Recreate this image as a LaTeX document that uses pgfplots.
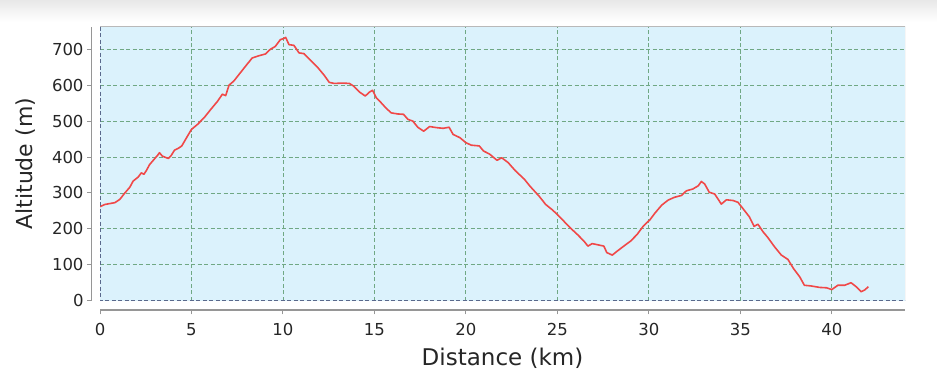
\documentclass[border=0pt]{standalone}
\usepackage{pgfplots}
\pgfplotsset{compat=1.18}
\usepackage{fontspec}
\setmainfont{DejaVu Sans}
\definecolor{bgc}{RGB}{219,242,252}
\definecolor{gridc}{RGB}{112,168,132}
\definecolor{linec}{RGB}{240,72,72}
\definecolor{axc}{RGB}{150,150,150}
\definecolor{borderc}{RGB}{185,185,185}
\definecolor{zeroc}{RGB}{90,105,140}
\pgfplotstableread{
x y
0 262
0.27 268
0.81 273
1.08 282
1.36 300
1.63 316
1.81 333
2.08 344
2.26 356
2.4 352
2.53 362
2.71 379
2.98 395
3.15 405
3.25 412
3.4 403
3.53 400
3.74 396
3.9 405
4.07 419
4.3 425
4.47 431
4.79 459
5.0 477
5.33 491
5.7 510
6.06 533
6.42 555
6.69 575
6.87 571
7.05 600
7.32 612
7.69 636
8.05 659
8.32 676
8.68 682
9.04 687
9.31 700
9.58 708
9.86 727
10.04 730
10.15 733
10.33 713
10.6 711
10.88 690
11.15 688
11.52 669
11.89 650
12.25 628
12.53 608
12.8 605
13.26 606
13.63 605
13.85 598
14.18 581
14.5 570
14.73 581
14.9 586
15.1 565
15.37 551
15.64 536
15.92 523
16.28 520
16.59 519
16.83 505
17.1 500
17.37 483
17.69 472
18.02 485
18.38 482
18.75 480
19.08 483
19.3 463
19.67 454
20.0 440
20.3 433
20.73 431
20.96 417
21.3 408
21.7 391
21.96 398
22.3 385
22.7 362
23.2 338
23.5 319
24.0 291
24.36 268
24.7 254
25.0 240
25.36 221
25.7 203
26.1 184
26.45 166
26.67 152
26.9 159
27.27 155
27.54 152
27.7 134
28.0 127
28.27 138
28.63 152
29.0 166
29.35 184
29.7 208
30.07 226
30.35 245
30.7 266
31.05 280
31.4 288
31.78 293
32.05 306
32.4 311
32.7 320
32.87 332
33.05 325
33.3 302
33.6 297
33.96 269
34.24 281
34.6 279
34.87 274
35.15 256
35.5 233
35.75 207
35.96 213
36.24 192
36.5 176
36.87 150
37.24 127
37.6 115
37.9 90
38.25 66
38.5 43
38.87 41
39.33 37
39.7 36
40.0 31
40.33 43
40.7 43
41.05 50
41.33 39
41.6 25
41.8 30
42.0 39
}\profile
\begin{document}
\begin{tikzpicture}
\useasboundingbox (-100pt,-74.3pt) rectangle (837pt,300.7pt);
\shade[top color=black!9, bottom color=white] (-100pt,279pt) rectangle (837pt,300.7pt);
% main plot area
\begin{axis}[
  at={(0,0)}, anchor=south west, scale only axis,
  width=805pt, height=274pt,
  xmin=0, xmax=44, ymin=0, ymax=763,
  axis line style={draw=none}, tick style={draw=none},
  xtick={5,10,...,40}, ytick={100,200,...,700},
  xticklabels={}, yticklabels={},
  grid=major,
  major grid style={dash pattern=on 4pt off 2.5pt, color=gridc, line width=0.9pt},
  axis background/.style={fill=bgc},
]
\addplot[linec, line width=1.6pt, line join=round] table[x=x,y=y] {\profile};
\draw[borderc, line width=1pt] (rel axis cs:0,1) -- (rel axis cs:1,1) -- (rel axis cs:1,0);
\draw[zeroc, dash pattern=on 4pt off 2.5pt, line width=0.9pt] (rel axis cs:0,1) -- (rel axis cs:0,0) -- (rel axis cs:1,0);
\end{axis}
% x axis (offset)
\begin{axis}[
  at={(0,-9.3pt)}, anchor=south west, scale only axis,
  width=805pt, height=1pt,
  xmin=0, xmax=44, ymin=0, ymax=1,
  axis x line*=bottom, axis y line=none,
  x axis line style={axc, line width=1.4pt},
  xtick={0,5,...,40},
  tick align=outside, major tick length=4.5pt,
  tick style={axc, line width=1pt},
  /pgf/number format/assume math mode=true,
  xticklabel style={font=\fontsize{16.5}{19}\selectfont, inner sep=0pt, anchor=north, yshift=-9pt, color=black!85},
  xlabel={Distance (km)},
  every axis x label/.style={at={(axis description cs:0.5,0)}, anchor=base, yshift=-55pt, font=\fontsize{23}{27}\selectfont, color=black!85},
]
\end{axis}
% y axis (offset)
\begin{axis}[
  at={(-8.3pt,0)}, anchor=south west, scale only axis,
  width=1pt, height=274pt,
  xmin=0, xmax=1, ymin=0, ymax=763,
  axis y line*=left, axis x line=none,
  y axis line style={axc, line width=1.4pt},
  ytick={0,100,...,700},
  tick align=outside, major tick length=4.5pt,
  tick style={axc, line width=1pt},
  /pgf/number format/assume math mode=true,
  yticklabel style={font=\fontsize{16.5}{19}\selectfont, inner sep=0pt, anchor=east, xshift=-3.5pt, color=black!85},
  ylabel={Altitude (m)},
  every axis y label/.style={at={(axis description cs:0,0.5)}, xshift=-58.7pt, rotate=90, anchor=base, font=\fontsize{22}{26}\selectfont, color=black!85},
]
\end{axis}
\end{tikzpicture}
\end{document}
